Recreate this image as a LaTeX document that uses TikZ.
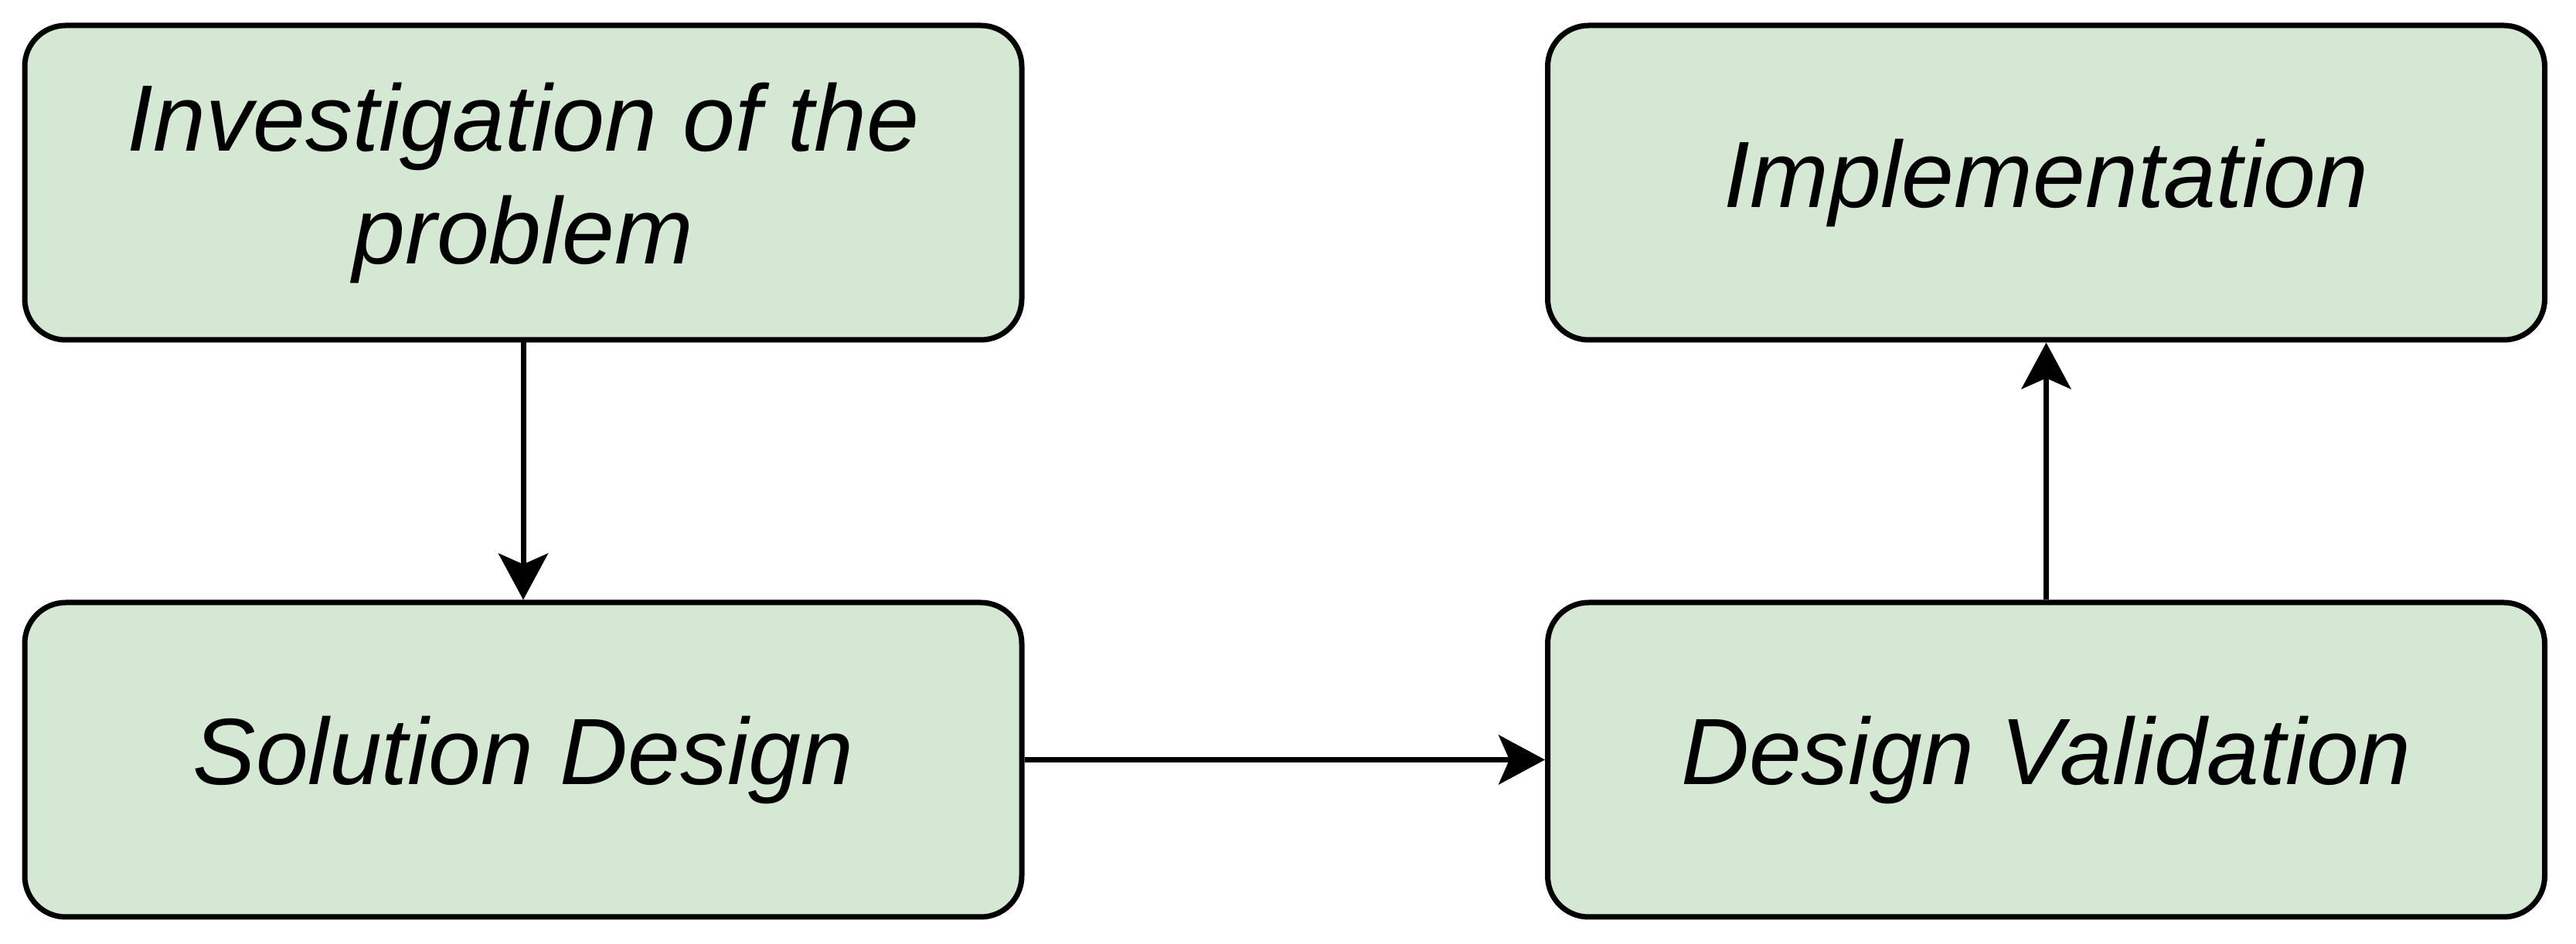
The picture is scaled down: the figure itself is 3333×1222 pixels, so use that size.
\documentclass[tikz,border=0pt]{standalone}
\usepackage{fontspec}
\setmainfont{Liberation Sans}
\usetikzlibrary{arrows.meta}
\definecolor{boxfill}{HTML}{D5E8D4}
\tikzset{
  stagebox/.style={draw=black, fill=boxfill, line width=7pt, rounded corners=53pt,
    minimum width=1290pt, minimum height=407pt, inner sep=0pt, align=center,
    font=\fontsize{122}{146}\selectfont\itshape},
  flow/.style={line width=7pt, -{Stealth[length=60pt, width=64pt, inset=14pt]}}
}
\begin{document}
\begin{tikzpicture}[x=1pt, y=1pt]
\useasboundingbox (0,0) rectangle (3333,1222);
\node[stagebox] (inv) at (677,985.5) {Investigation of the\\problem};
\node[stagebox] (sol) at (677,238.5) {Solution Design};
\node[stagebox] (impl) at (2647.5,985.5) {Implementation};
\node[stagebox] (val) at (2647.5,238.5) {Design Validation};
\draw[flow] (inv.south) -- (sol.north);
\draw[flow] (sol.east) -- (val.west);
\draw[flow] (val.north) -- (impl.south);
\end{tikzpicture}
\end{document}
